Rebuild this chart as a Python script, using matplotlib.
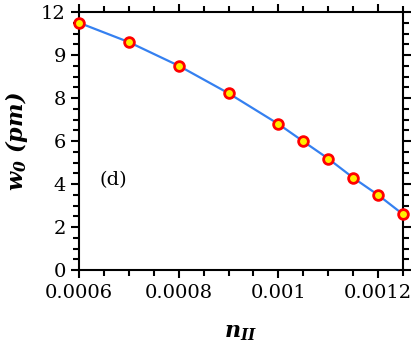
import numpy as np
import matplotlib
matplotlib.use("Agg")
import matplotlib.pyplot as plt
from matplotlib.ticker import MultipleLocator, FixedLocator, FixedFormatter

n_II = [0.0006, 0.0007, 0.0008, 0.0009, 0.001, 0.00105, 0.0011, 0.00115, 0.0012, 0.00125]
w0 = [11.50, 10.60, 9.50, 8.22, 6.79, 5.98, 5.18, 4.29, 3.49, 2.59]

ytick_vals = [0, 2, 4, 6, 8, 10, 12]
ytick_labels = ["0", "2", "4", "6", "8", "9", "12"]
xtick_vals = [0.0006, 0.0008, 0.001, 0.0012]
xtick_labels = ["0.0006", "0.0008", "0.001", "0.0012"]

plt.rcParams["font.family"] = "DejaVu Serif"
plt.rcParams["mathtext.fontset"] = "custom"
plt.rcParams["mathtext.rm"] = "DejaVu Serif:bold:italic"
plt.rcParams["mathtext.it"] = "DejaVu Serif:bold:italic"

fig = plt.figure(figsize=(4.15, 3.57), dpi=100)
ax = fig.add_axes([79/415, 87/357, 324/415, 258/357])

ax.plot(n_II, w0, color="#3580f0", lw=1.6, zorder=2)
ax.plot(n_II, w0, "o", ms=7, mfc="#ffee00", mec="#ff0000", mew=2, zorder=3, clip_on=False)

ax.set_xlim(0.0006, 0.00125)
ax.set_ylim(0, 12)

ax.xaxis.set_major_locator(FixedLocator(xtick_vals))
ax.xaxis.set_major_formatter(FixedFormatter(xtick_labels))
ax.xaxis.set_minor_locator(MultipleLocator(0.00005))
ax.yaxis.set_major_locator(FixedLocator(ytick_vals))
ax.yaxis.set_major_formatter(FixedFormatter(ytick_labels))
ax.yaxis.set_minor_locator(MultipleLocator(0.5))

ax.tick_params(which="both", direction="out", top=True, right=True, width=1.5, labelsize=14)
ax.tick_params(which="major", length=6)
ax.tick_params(which="minor", length=4)
ax.tick_params(axis="x", pad=4)
for s in ax.spines.values():
    s.set_linewidth(1.5)

ax.text(0.000642, 4.2, "(d)", fontsize=14, va="center")

ax.set_ylabel(r"$w_0\ (pm)$", fontsize=16, labelpad=8)
ax.set_xlabel(r"$n_{II}$", fontsize=16, labelpad=14)

fig.savefig("out.png", dpi=100)
